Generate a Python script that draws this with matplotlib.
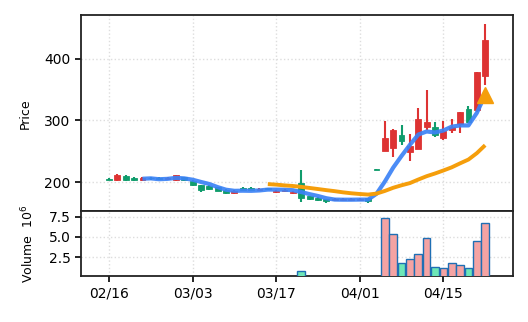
import numpy as np
import pandas as pd
import matplotlib
matplotlib.use('Agg')
import matplotlib.pyplot as plt

# daily OHLC (index 0 = 02/16)
opens  = [205, 203, 210, 207, 203, 207, 207, 205, 203, 208,
          202, 195, 194, 192, 188, 182, 191, 191, 188, 190,
          184, 186, 182, 198, 177, 175, 172, 171, 171, 171,
          171, 174, 221, 250, 255, 277, 249, 254, 290, 290,
          271, 285, 295, 319, 317, 372]
highs  = [206, 213, 211, 208, 209, 209, 208, 208, 212, 209,
          203, 196, 195, 193, 189, 188, 192, 192, 191, 191,
          188, 189, 185, 219, 178, 176, 173, 175, 174, 174,
          174, 175, 221, 299, 287, 292, 278, 320, 349, 298,
          299, 303, 314, 324, 379, 456]
lows   = [203, 202, 202, 202, 202, 204, 203, 204, 202, 202,
          194, 184, 188, 185, 181, 181, 187, 187, 187, 188,
          183, 184, 181, 168, 171, 169, 167, 170, 170, 170,
          170, 166, 220, 250, 241, 261, 234, 253, 284, 273,
          268, 279, 279, 296, 314, 357]
closes = [203, 212, 203, 203, 207, 206, 205, 206, 211, 203,
          195, 187, 189, 186, 182, 186, 188, 188, 189, 189,
          186, 187, 184, 174, 172, 171, 169, 173, 173, 172,
          172, 169, 220, 272, 285, 267, 259, 303, 297, 277,
          283, 290, 313, 297, 378, 430]
# volume in millions, only a few days reported
volume = [np.nan] * 23 + [0.82] + [np.nan] * 9 + [
    7.30, 5.40, 1.73, 2.26, 2.85, 4.83, 1.27, 1.11, 1.73, 1.49, 1.15, 4.49, 6.68]

tick_labels = ['02/16', '03/03', '03/17', '04/01', '04/15']

df = pd.DataFrame({'open': opens, 'high': highs, 'low': lows,
                   'close': closes, 'volume': volume})
df['ma5'] = df['close'].rolling(5).mean()
df['ma20'] = df['close'].rolling(20).mean()
x = np.arange(len(df))

up_c = '#dd3333'
dn_c = '#109c6c'
colors = [up_c if c >= o else dn_c for o, c in zip(df['open'], df['close'])]

fig = plt.figure(figsize=(5.28, 3.22), dpi=100)
ax1 = fig.add_axes([0.1534, 0.3432, 0.8177, 0.6102])
ax2 = fig.add_axes([0.1534, 0.1419, 0.8177, 0.2013], sharex=ax1)

# candles
body_lo = np.minimum(df['open'], df['close'])
body_h = np.maximum(np.abs(df['close'] - df['open']), 1.0)
ax1.vlines(x, df['low'], df['high'], colors=colors, linewidth=1.5, zorder=2)
ax1.bar(x, body_h, bottom=body_lo, width=0.7, color=colors,
        edgecolor=colors, linewidth=0.6, zorder=3)

ax1.plot(x, df['ma5'], color='#3b82f6', lw=3.0, alpha=0.92, zorder=4,
         solid_capstyle='butt')
ax1.plot(x, df['ma20'], color='#f59e0b', lw=2.8, zorder=4,
         solid_capstyle='butt')
ax1.plot(x[-1], df['ma5'].iloc[-1], marker='^', ms=12, color='#f59e0b',
         zorder=5)

ax1.set_ylim(152.5, 471)
ax1.set_yticks([200, 300, 400])
ax1.set_ylabel('Price', fontsize=9, labelpad=9)

# volume
vcolors = ['#f4a3a3' if c == up_c else '#6ee7b7' for c in colors]
ax2.bar(x, df['volume'], width=0.92, color=vcolors, edgecolor='#1f6fb4',
        linewidth=1.0, zorder=3)
ax2.set_ylim(0.12, 8.12)
ax2.set_yticks([2.5, 5.0, 7.5])
ax2.set_ylabel('Volume  $10^{6}$', fontsize=9, labelpad=9)

ax2.set_xlim(-3.35, 48.3)
ax2.set_xticks(np.arange(0, len(df), 10))
ax2.set_xticklabels(tick_labels)

for ax in (ax1, ax2):
    ax.grid(True, linestyle=':', color='#dddddd', lw=1.0)
    ax.set_axisbelow(True)
    ax.tick_params(labelsize=10, length=4, width=1.2)
    for s in ax.spines.values():
        s.set_color('#222222')
        s.set_linewidth(1.3)
ax1.tick_params(axis='x', bottom=False, labelbottom=False)

fig.savefig('out.png', dpi=100)
